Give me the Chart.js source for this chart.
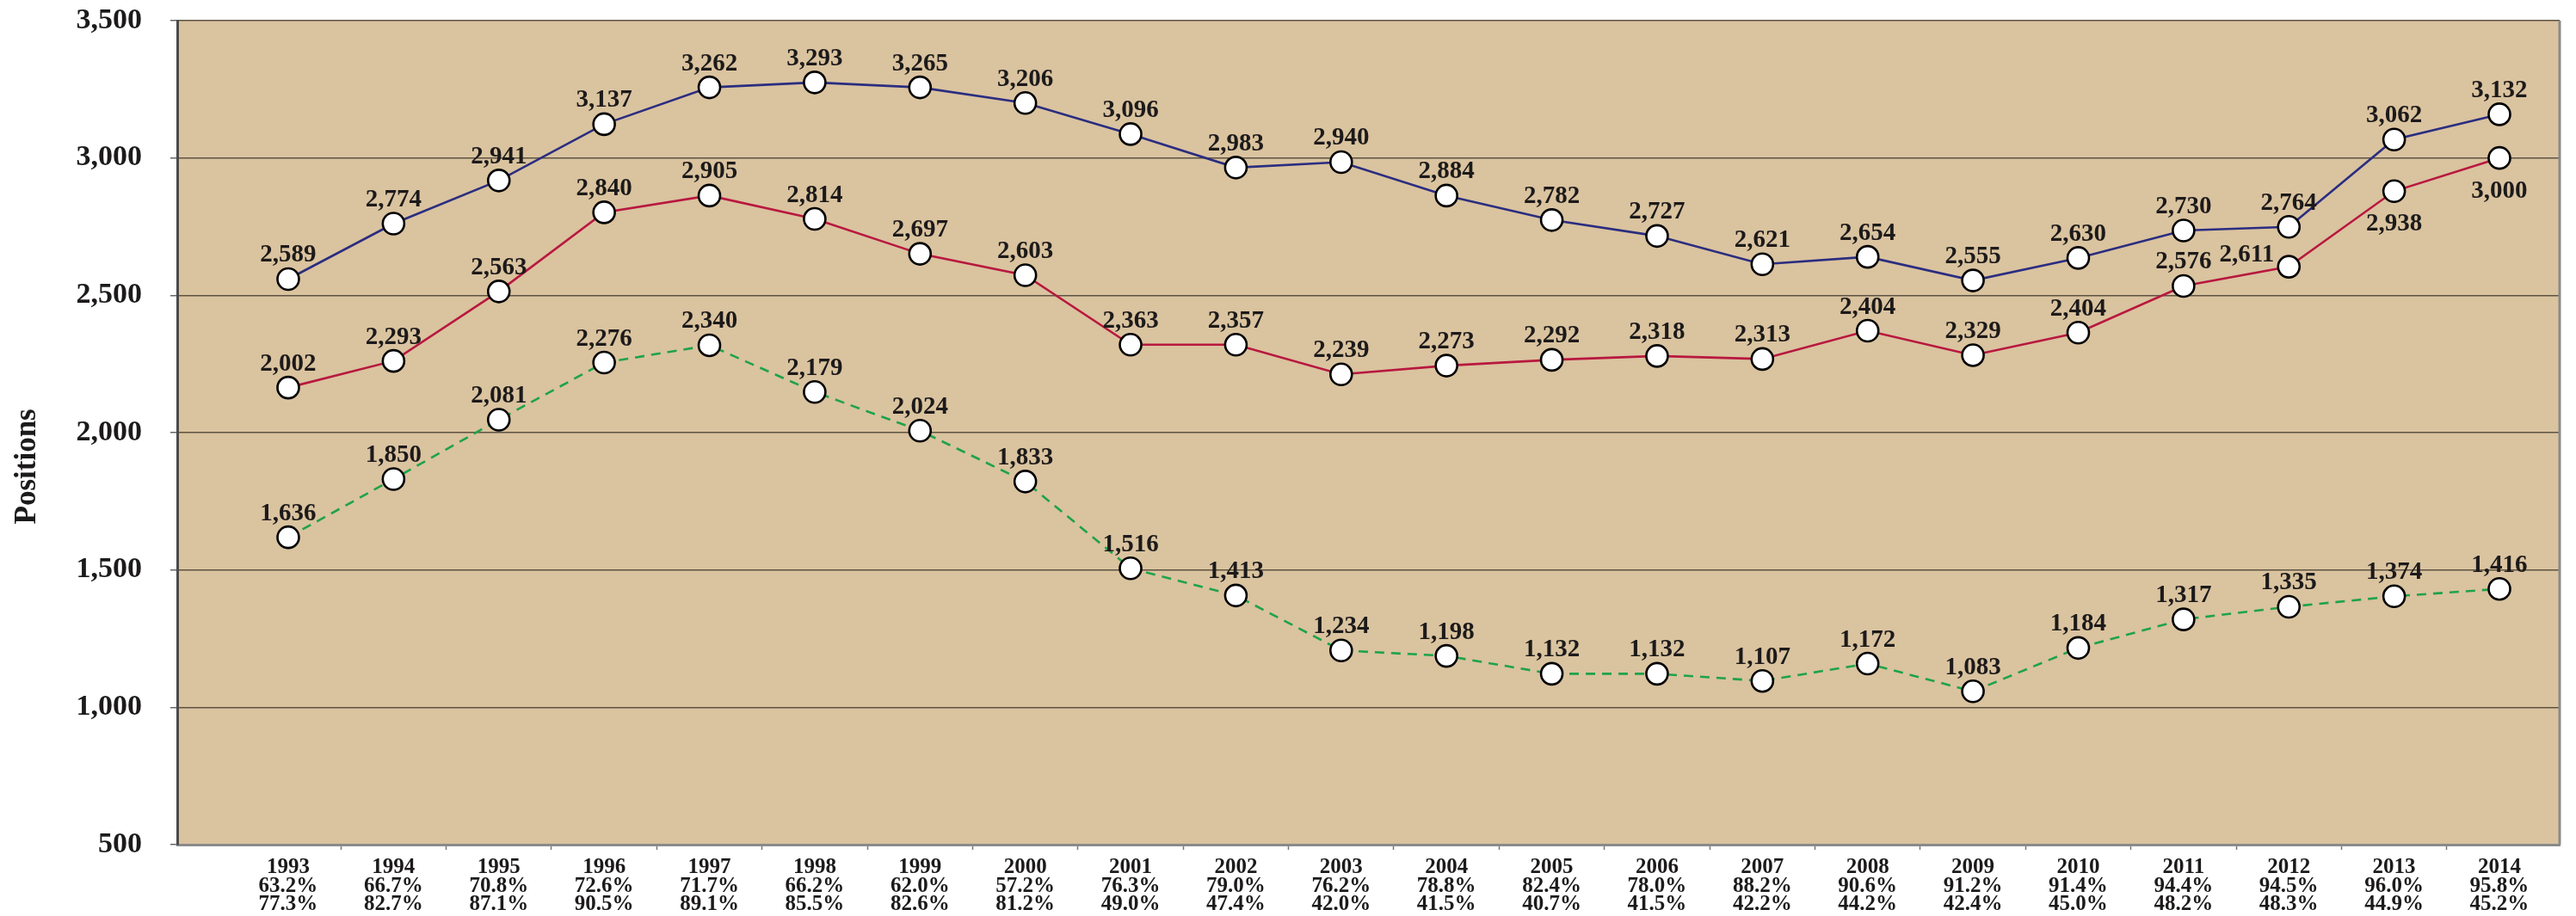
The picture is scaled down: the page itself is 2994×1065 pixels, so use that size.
<!DOCTYPE html>
<html>
<head>
<meta charset="utf-8">
<script src="https://cdn.jsdelivr.net/npm/chart.js@4.4.1/dist/chart.umd.min.js"></script>
<style>
  html, body { margin: 0; padding: 0; background: #fff; }
  #wrap { width: 2994px; height: 1065px; }
</style>
</head>
<body>
<div id="wrap"><canvas id="chart"></canvas></div>
<script>
const YEARS = [1993, 1994, 1995, 1996, 1997, 1998, 1999, 2000, 2001, 2002, 2003,
               2004, 2005, 2006, 2007, 2008, 2009, 2010, 2011, 2012, 2013, 2014];

const PCT_TOP    = ['63.2', '66.7', '70.8', '72.6', '71.7', '66.2', '62.0', '57.2', '76.3', '79.0', '76.2',
                    '78.8', '82.4', '78.0', '88.2', '90.6', '91.2', '91.4', '94.4', '94.5', '96.0', '95.8'];
const PCT_BOTTOM = ['77.3', '82.7', '87.1', '90.5', '89.1', '85.5', '82.6', '81.2', '49.0', '47.4', '42.0',
                    '41.5', '40.7', '41.5', '42.2', '44.2', '42.4', '45.0', '48.2', '48.3', '44.9', '45.2'];

const BLUE_PLOT  = [2559, 2761, 2918, 3123, 3257, 3275, 3257, 3200, 3087, 2965, 2985,
                    2863, 2774, 2716, 2613, 2640, 2554, 2636, 2736, 2749, 3067, 3159];
const RED_PLOT   = [2164, 2261, 2514, 2802, 2863, 2778, 2651, 2573, 2320, 2320, 2212,
                    2244, 2265, 2279, 2268, 2371, 2282, 2364, 2534, 2604, 2879, 3000];
const GREEN_PLOT = [1619, 1831, 2047, 2255, 2318, 2148, 2007, 1822, 1506, 1407, 1207,
                    1187, 1122, 1122, 1096, 1159, 1058, 1216, 1320, 1366, 1404, 1431];

const BLUE_LABELS  = [2589, 2774, 2941, 3137, 3262, 3293, 3265, 3206, 3096, 2983, 2940,
                      2884, 2782, 2727, 2621, 2654, 2555, 2630, 2730, 2764, 3062, 3132];
const RED_LABELS   = [2002, 2293, 2563, 2840, 2905, 2814, 2697, 2603, 2363, 2357, 2239,
                      2273, 2292, 2318, 2313, 2404, 2329, 2404, 2576, 2611, 2938, 3000];
const GREEN_LABELS = [1636, 1850, 2081, 2276, 2340, 2179, 2024, 1833, 1516, 1413, 1234,
                      1198, 1132, 1132, 1107, 1172, 1083, 1184, 1317, 1335, 1374, 1416];

const Y_TICKS = [500, 1000, 1500, 2000, 2500, 3000, 3500];

const SERIF = '"Liberation Serif", "Times New Roman", serif';
const TEXT = '#1c1a1a';

const toPoints = vals => YEARS.map((yr, i) => ({ x: yr, y: vals[i] }));

function lineSet(vals, labels, color, dash) {
  return {
    data: toPoints(vals),
    valueLabels: labels,
    borderColor: color,
    borderWidth: 2.6,
    borderDash: dash,
    fill: false,
    tension: 0,
    pointRadius: 12.5,
    pointHoverRadius: 12.5,
    pointBackgroundColor: '#ffffff',
    pointBorderColor: '#000000',
    pointBorderWidth: 2.6,
  };
}

// label spots that differ from the usual "above" placement: dataset index -> point index -> spot
const SPOTS = { 1: { 19: 'left', 20: 'below', 21: 'below' } };

const plotFrame = {
  id: 'plotFrame',
  beforeDraw(chart) {
    const { ctx, chartArea: ca } = chart;
    ctx.save();
    ctx.fillStyle = '#dac39f';
    ctx.fillRect(ca.left, ca.top, ca.right - ca.left, ca.bottom - ca.top);
    ctx.restore();
  },
  beforeDatasetsDraw(chart) {
    const { ctx, chartArea: ca } = chart;
    ctx.save();
    ctx.strokeStyle = '#8a8a8a';
    ctx.lineWidth = 3;
    ctx.beginPath();
    ctx.moveTo(ca.right, ca.top);
    ctx.lineTo(ca.right, ca.bottom);
    ctx.stroke();
    ctx.restore();
  },
};

const valueLabels = {
  id: 'valueLabels',
  afterDatasetsDraw(chart) {
    const ctx = chart.ctx;
    ctx.save();
    ctx.font = `bold 29px ${SERIF}`;
    ctx.fillStyle = TEXT;
    chart.data.datasets.forEach((ds, di) => {
      const meta = chart.getDatasetMeta(di);
      meta.data.forEach((pt, i) => {
        const txt = ds.valueLabels[i].toLocaleString('en-US');
        const spot = (SPOTS[di] && SPOTS[di][i]) || 'above';
        if (spot === 'left') {
          ctx.textAlign = 'right';
          ctx.fillText(txt, pt.x - 17, pt.y - 6);
        } else if (spot === 'below') {
          ctx.textAlign = 'center';
          ctx.fillText(txt, pt.x, pt.y + 46);
        } else {
          ctx.textAlign = 'center';
          ctx.fillText(txt, pt.x, pt.y - 20);
        }
      });
    });
    ctx.restore();
  },
};

new Chart(document.getElementById('chart'), {
  type: 'line',
  data: {
    datasets: [
      lineSet(BLUE_PLOT, BLUE_LABELS, '#2a2d80', []),
      lineSet(RED_PLOT, RED_LABELS, '#b8183f', []),
      lineSet(GREEN_PLOT, GREEN_LABELS, '#1ea34a', [11, 8]),
    ],
  },
  options: {
    responsive: true,
    maintainAspectRatio: false,
    animation: false,
    layout: { padding: { top: 24, right: 19, left: 0, bottom: 0 } },
    plugins: { legend: { display: false }, tooltip: { enabled: false } },
    scales: {
      x: {
        type: 'linear',
        min: 1991.946,
        max: 2014.572,
        afterBuildTicks: scale => { scale.ticks = YEARS.map(v => ({ value: v })); },
        afterFit: scale => { scale.height = 83; scale.paddingLeft = 0; scale.paddingRight = 0; },
        grid: {
          offset: true,
          drawOnChartArea: false,
          tickLength: 6,
          tickWidth: 1.5,
          tickColor: ctx => (ctx.type !== 'tick' || ctx.index === 0) ? 'rgba(0,0,0,0)' : '#777777',
        },
        border: { color: '#8a8a8a', width: 3 },
        ticks: {
          autoSkip: false,
          maxRotation: 0,
          padding: 10,
          color: TEXT,
          font: { family: SERIF, size: 25, weight: 'bold', lineHeight: 0.86 },
          callback: v => {
            const i = YEARS.indexOf(v);
            return [String(v), PCT_TOP[i] + '%', PCT_BOTTOM[i] + '%'];
          },
        },
      },
      y: {
        min: 500,
        max: 3500,
        afterBuildTicks: scale => { scale.ticks = Y_TICKS.map(v => ({ value: v })); },
        afterFit: scale => { scale.width = 206; scale.paddingTop = 0; scale.paddingBottom = 0; },
        grid: { color: '#5d5242', lineWidth: 1.5, tickLength: 8, tickColor: '#666666' },
        border: { color: '#4a4a4a', width: 3 },
        title: {
          display: true,
          text: 'Positions' + '\u00A0'.repeat(9),
          color: TEXT,
          font: { family: SERIF, size: 35, weight: 'bold' },
          padding: { top: 11, bottom: 0 },
        },
        ticks: {
          padding: 33,
          color: TEXT,
          font: { family: SERIF, size: 34, weight: 'bold' },
          callback: v => v.toLocaleString('en-US'),
        },
      },
    },
  },
  plugins: [plotFrame, valueLabels],
});
</script>
</body>
</html>
